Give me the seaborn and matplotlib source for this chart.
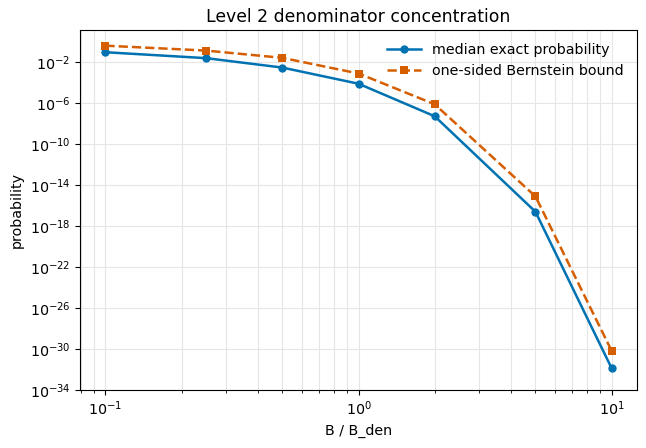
import numpy as np
import pandas as pd
import seaborn as sns
import matplotlib
matplotlib.use("Agg")
import matplotlib.pyplot as plt

# ratio B / B_den
ratio = [0.1, 0.25, 0.5, 1.0, 2.0, 5.0, 10.0]
# log10 of probabilities
median_log10 = [-1.01, -1.59, -2.51, -4.09, -7.27, -16.6, -31.9]
bernstein_log10 = [-0.37, -0.85, -1.56, -3.09, -6.1, -15.1, -30.2]

median_prob = [10 ** v for v in median_log10]
bernstein_prob = [10 ** v for v in bernstein_log10]

df_med = pd.DataFrame({"ratio": ratio, "prob": median_prob})
df_bern = pd.DataFrame({"ratio": ratio, "prob": bernstein_prob})

plt.rcParams["font.size"] = 10.3

fig, ax = plt.subplots(figsize=(6.46, 4.48), dpi=100)

sns.lineplot(data=df_med, x="ratio", y="prob", ax=ax, color="#0072B2",
             marker="o", markersize=6, markeredgewidth=0, linewidth=1.8,
             label="median exact probability")
sns.lineplot(data=df_bern, x="ratio", y="prob", ax=ax, color="#D55E00",
             marker="s", markersize=6, markeredgewidth=0, linewidth=1.8,
             linestyle="--", label="one-sided Bernstein bound")

ax.set_xscale("log")
ax.set_yscale("log")
ax.set_xlim(10 ** -1.1, 10 ** 1.1)
ax.set_ylim(1e-34, 10 ** 1.16)
ax.set_yticks([10.0 ** e for e in range(-34, 1, 4)])
ax.yaxis.set_minor_locator(matplotlib.ticker.NullLocator())

ax.grid(True, which="major", color="#e6e6e6", linewidth=0.8)
ax.grid(True, which="minor", axis="x", color="#e6e6e6", linewidth=0.8)
ax.set_axisbelow(True)

ax.set_xlabel("B / B_den")
ax.set_ylabel("probability")
ax.set_title("Level 2 denominator concentration", fontsize=12.4)
ax.legend(loc="upper right", frameon=False, handlelength=2.4)

fig.subplots_adjust(left=0.124, right=0.986, top=0.933, bottom=0.13)
fig.savefig("out.png", dpi=100)
